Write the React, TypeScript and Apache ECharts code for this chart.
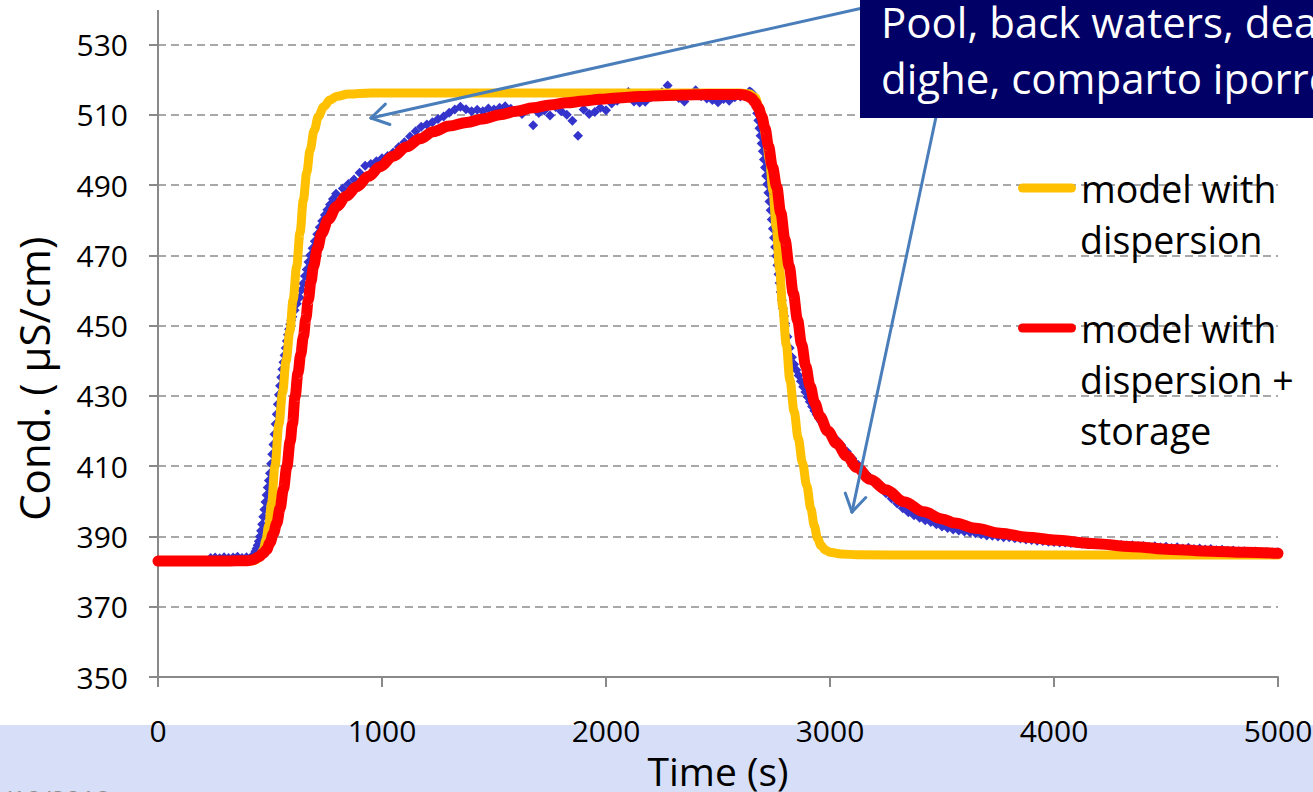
import React, { useEffect, useRef } from "react";
import * as echarts from "echarts";

// ---------- axes ----------
const X_MIN = 0;
const X_MAX = 5000;
const X_STEP = 1000;
const Y_MIN = 350;
const Y_MAX = 530;
const Y_STEP = 20;
const X_TITLE = "Time (s)";
const Y_TITLE = "Cond. ( µS/cm)";

// ---------- series names / texts ----------
const NAME_OBS = "observed";
const NAME_DISP = "model with dispersion";
const NAME_STOR = "model with dispersion + storage";
const legendDispLines = ["model with", "dispersion"];
const legendStorLines = ["model with", "dispersion +", "storage"];
const calloutLines = ["Pool, back waters, dead zones,", "dighe, comparto iporreico"];
const dateText = "/10/2018";

// ---------- observed conductivity (time s, µS/cm) ----------
const observedStart: [number, number][] = [[0, 383.0]];
const observedBaseline: [number, number][] = [
  [235, 383.9], [255, 384.0], [275, 383.8], [295, 384.1], [315, 383.9], [335, 384.0],
  [355, 384.2], [375, 383.9], [395, 384.1], [415, 384.0],
];
const observedRise: [number, number][] = [
  [425, 384.5], [430, 385.0], [435, 385.8], [440, 386.6], [445, 387.5], [450, 388.6],
  [455, 390.0], [460, 391.6], [465, 393.5], [470, 395.6], [475, 397.7], [480, 399.8],
  [485, 401.8], [490, 403.9], [495, 405.9], [500, 408.0], [505, 410.7], [510, 413.4],
  [515, 416.2], [520, 419.1], [525, 422.0], [530, 424.8], [535, 427.6], [540, 430.3],
  [545, 432.9], [550, 435.3], [555, 437.6], [560, 439.6], [565, 441.6], [570, 443.6],
  [575, 445.6], [580, 447.4], [585, 449.0], [590, 450.4], [595, 451.5], [600, 452.5],
  [610, 454.4], [620, 456.2], [632, 458.0], [640, 460.1], [648, 462.0], [656, 464.1],
  [664, 466.0], [672, 468.1], [680, 470.0], [690, 472.0], [700, 474.0], [711, 476.0],
  [722, 478.0], [733, 479.8], [745, 481.5], [756, 483.0], [768, 484.5], [781, 486.0],
  [795, 487.5],
];
const observedPlateau: [number, number][] = [
  [825, 489.0], [850, 490.3], [875, 491.6], [900, 493.5], [925, 495.5], [950, 496.0],
  [975, 496.8], [1000, 497.6], [1025, 498.3], [1050, 499.3], [1075, 500.8], [1100, 502.2],
  [1125, 503.8], [1150, 505.3], [1175, 506.6], [1200, 507.2], [1225, 507.9], [1250, 508.8],
  [1275, 509.5], [1300, 510.6], [1325, 511.5], [1350, 512.3], [1375, 511.6], [1400, 511.0],
  [1425, 511.4], [1450, 511.0], [1475, 511.8], [1500, 511.5], [1525, 512.0], [1550, 512.4],
  [1575, 511.7], [1600, 511.0], [1625, 510.2], [1650, 511.5], [1675, 507.0], [1700, 510.5],
  [1725, 511.2], [1750, 509.8], [1775, 512.2], [1800, 511.0], [1825, 510.0], [1850, 508.3],
  [1875, 504.0], [1900, 511.5], [1925, 510.2], [1950, 510.8], [1975, 512.0], [2000, 511.3],
  [2025, 513.2], [2050, 514.0], [2075, 515.2], [2100, 516.5], [2125, 513.8], [2150, 513.5],
  [2175, 513.7], [2200, 515.0], [2225, 515.6], [2250, 516.4], [2275, 518.3], [2300, 515.5],
  [2325, 514.8], [2350, 513.8], [2375, 515.6], [2400, 517.0], [2425, 515.3], [2450, 514.6],
  [2475, 514.2], [2500, 513.6], [2525, 514.5], [2550, 514.0], [2575, 515.0], [2600, 515.2],
  [2625, 515.6], [2640, 516.6],
];
const observedFall: [number, number][] = [
  [2645, 516.5], [2650, 516.3], [2655, 515.8], [2660, 515.0], [2665, 513.8], [2670, 512.2],
  [2675, 510.4], [2680, 508.4], [2685, 506.2], [2690, 504.0], [2695, 501.8], [2700, 499.6],
  [2705, 497.3], [2710, 495.0], [2715, 492.6], [2720, 490.2], [2725, 487.8], [2730, 485.3],
  [2735, 482.8], [2740, 480.2], [2745, 477.6], [2750, 475.0], [2755, 472.4], [2760, 469.8],
  [2765, 467.2], [2770, 464.6], [2775, 462.1], [2780, 459.6], [2785, 457.2], [2790, 454.9],
  [2795, 452.7], [2800, 450.6], [2810, 446.8], [2820, 443.6], [2830, 441.0], [2840, 439.0],
  [2850, 437.4], [2860, 435.8], [2870, 434.2], [2880, 432.6], [2890, 431.1], [2900, 429.7],
  [2910, 428.3], [2920, 427.0], [2930, 425.8], [2940, 424.7], [2950, 423.7], [2960, 422.7],
  [2970, 421.8], [2980, 420.9], [2990, 420.1], [3000, 419.3],
];
const observedTail: [number, number][] = [
  [3025, 417.8], [3050, 416.0], [3075, 414.2], [3100, 412.2], [3125, 410.4], [3150, 408.6],
  [3175, 407.0], [3200, 405.2], [3225, 403.7], [3250, 402.3], [3275, 400.8], [3300, 399.4],
  [3325, 398.0], [3350, 396.9], [3375, 396.0], [3400, 395.3], [3425, 394.6], [3450, 394.1],
  [3475, 393.5], [3500, 392.8], [3525, 392.4], [3550, 392.0], [3575, 391.7], [3600, 391.4],
  [3625, 391.2], [3650, 390.9], [3675, 390.6], [3700, 390.3], [3725, 390.2], [3750, 390.0],
  [3775, 389.8], [3800, 389.8], [3825, 389.5], [3850, 389.4], [3875, 389.1], [3900, 389.0],
  [3925, 388.8], [3950, 388.7], [3975, 388.5], [4000, 388.4], [4025, 388.3], [4050, 388.3],
  [4075, 388.1], [4100, 388.1], [4125, 387.9], [4150, 387.9], [4175, 387.8], [4200, 387.9],
  [4225, 387.7], [4250, 387.8], [4275, 387.5], [4300, 387.6], [4325, 387.4], [4350, 387.5],
  [4375, 387.2], [4400, 387.3], [4425, 387.0], [4450, 387.2], [4475, 386.9], [4500, 387.1],
  [4525, 386.7], [4550, 386.9], [4575, 386.6], [4600, 386.8], [4625, 386.4], [4650, 386.6],
  [4675, 386.3], [4700, 386.4], [4725, 386.1], [4750, 386.2], [4775, 385.9], [4800, 386.0],
  [4825, 385.8], [4850, 385.8], [4875, 385.6], [4900, 385.7], [4925, 385.5], [4950, 385.6],
  [4975, 385.4], [5000, 385.5],
];

// ---------- model with dispersion ----------
const dispersionModel: [number, number][] = [
  [0, 383.0], [420, 383.0], [440, 383.4], [455, 384.3], [470, 386.2], [482, 389.0],
  [494, 393.0], [507, 399.4], [522, 410.0], [540, 422.0], [556, 431.0], [572, 440.0],
  [589, 448.5], [603, 457.3], [619, 466.8], [634, 476.5], [649, 485.8], [664, 493.5],
  [679, 500.0], [697, 505.5], [716, 509.5], [740, 512.3], [768, 514.2], [800, 515.3],
  [850, 515.9], [950, 516.2], [2600, 516.2], [2640, 516.0], [2665, 515.0], [2685, 512.0],
  [2700, 508.5], [2715, 503.5], [2730, 497.0], [2745, 488.5], [2760, 478.0], [2775, 466.0],
  [2788, 455.5], [2805, 444.5], [2821, 434.5], [2840, 425.5], [2858, 418.0], [2877, 411.0],
  [2896, 404.5], [2915, 397.8], [2930, 393.0], [2944, 389.5], [2960, 387.4], [2980, 386.1],
  [3000, 385.5], [3050, 385.0], [3120, 384.8], [3400, 384.7], [5000, 384.7],
];

// ---------- model with dispersion + storage ----------
const storageModel: [number, number][] = [
  [0, 383.0], [300, 383.0], [400, 383.1], [425, 383.4], [450, 384.2], [470, 385.2],
  [485, 386.3], [500, 388.2], [515, 390.8], [530, 393.7], [545, 398.0], [560, 403.5],
  [575, 409.8], [590, 417.0], [600, 422.0], [612, 429.8], [625, 436.5], [637, 441.8],
  [649, 446.8], [660, 452.0], [671, 457.3], [683, 462.5], [694, 466.8], [712, 472.0],
  [731, 476.3], [760, 480.2], [798, 483.9], [840, 486.8], [887, 489.5], [940, 492.5],
  [991, 495.2], [1050, 498.2], [1110, 500.9], [1170, 503.2], [1229, 505.2], [1300, 506.8],
  [1378, 507.8], [1450, 508.8], [1527, 510.0], [1600, 511.0], [1675, 512.0], [1750, 512.8],
  [1825, 513.4], [1900, 513.9], [1973, 514.4], [2050, 514.8], [2150, 515.2], [2271, 515.5],
  [2400, 515.7], [2500, 515.8], [2580, 515.8], [2610, 515.7], [2630, 515.4], [2650, 514.7],
  [2665, 513.6], [2680, 512.0], [2695, 509.6], [2710, 506.2], [2725, 501.2], [2743, 495.2],
  [2762, 489.5], [2780, 482.2], [2799, 474.4], [2818, 466.8], [2836, 459.2], [2855, 451.6],
  [2873, 444.8], [2892, 438.4], [2911, 432.8], [2932, 428.0], [2955, 424.1], [2990, 420.0],
  [3030, 416.5], [3075, 412.9], [3120, 409.6], [3180, 406.2], [3250, 403.3], [3330, 399.9],
  [3420, 397.0], [3500, 395.0], [3558, 393.8], [3650, 392.3], [3760, 390.9], [3880, 389.8],
  [4000, 389.0], [4170, 388.0], [4350, 387.1], [4521, 386.3], [4700, 385.8], [4850, 385.5],
  [5000, 385.2],
];

// ---------- style ----------
const FONT = "'Open Sans', 'Noto Sans', sans-serif";
const AXIS_GRAY = "#898989";
const BLUE = "#3434CC";
const ORANGE = "#FFC000";
const RED = "#FF0000";
const ARROW = "#4A7EBB";
const NAVY = "#000066";

function arrow(x1: number, y1: number, x2: number, y2: number): any[] {
  const ang = Math.atan2(y1 - y2, x1 - x2);
  const L = 20;
  const spread = 0.55;
  const style = { stroke: ARROW, lineWidth: 3, lineCap: "round" };
  return [
    { type: "line", z: 10, silent: true, shape: { x1, y1, x2, y2 }, style },
    {
      type: "line", z: 10, silent: true,
      shape: { x1: x2, y1: y2, x2: x2 + L * Math.cos(ang + spread), y2: y2 + L * Math.sin(ang + spread) },
      style,
    },
    {
      type: "line", z: 10, silent: true,
      shape: { x1: x2, y1: y2, x2: x2 + L * Math.cos(ang - spread), y2: y2 + L * Math.sin(ang - spread) },
      style,
    },
  ];
}

const LEGEND_ICON = "path://M4.5,0L53.5,0A4.5,4.5,0,0,1,53.5,9L4.5,9A4.5,4.5,0,0,1,4.5,0Z";
const LEG_LEFT = 1013;
const LEG_C1 = 188;
const LEG_C2 = 328;
const LEG_LH = 51;
const LEG_FS = 37.5;

function legendCfg(name: string, firstLine: string, center: number) {
  return {
    data: [name],
    left: LEG_LEFT,
    top: center - LEG_LH / 2 - 5,
    orient: "vertical",
    itemWidth: 58,
    itemHeight: 9,
    icon: LEGEND_ICON,
    selectedMode: false,
    formatter: () => firstLine,
    textStyle: { fontSize: LEG_FS, lineHeight: LEG_LH, fontFamily: FONT, color: "#000" },
  };
}

function legendExtra(lines: string[], center: number): any[] {
  return lines.slice(1).map((t, i) => ({
    type: "text",
    z: 5,
    silent: true,
    x: LEG_LEFT + 5 + 58 + 4,
    y: center + LEG_LH * (i + 1),
    style: { text: t, fontSize: LEG_FS, fontFamily: FONT, fill: "#000", verticalAlign: "middle", align: "left" },
  }));
}

export default function App() {
  const ref = useRef<HTMLDivElement>(null);

  useEffect(() => {
    if (!ref.current) return;
    const chart = echarts.init(ref.current, null, { renderer: "svg" });

    const observed = [
      ...observedStart,
      ...observedBaseline,
      ...observedRise,
      ...observedPlateau,
      ...observedFall,
      ...observedTail,
    ];

    const option: any = {
      animation: false,
      backgroundColor: "#ffffff",
      textStyle: { fontFamily: FONT },
      grid: {
        left: 158,
        right: 35,
        top: 44.5,
        bottom: 115,
        containLabel: false,
        outerBoundsMode: "none",
      },
      xAxis: {
        type: "value",
        min: X_MIN,
        max: X_MAX,
        interval: X_STEP,
        name: X_TITLE,
        nameLocation: "middle",
        nameGap: 58,
        nameTextStyle: { fontSize: 39, lineHeight: 42, fontFamily: FONT, color: "#000" },
        axisLine: { show: true, lineStyle: { color: AXIS_GRAY, width: 2 } },
        axisTick: { show: true, length: 10, lineStyle: { color: AXIS_GRAY, width: 2 } },
        axisLabel: {
          margin: 38,
          fontSize: 30,
          fontFamily: FONT,
          color: "#000",
          formatter: (v: number) => String(v),
        },
        splitLine: { show: false },
      },
      yAxis: {
        type: "value",
        min: Y_MIN,
        max: Y_MAX,
        interval: Y_STEP,
        name: Y_TITLE,
        nameLocation: "middle",
        nameGap: 104,
        nameTextStyle: { fontSize: 42, fontFamily: FONT, color: "#000", padding: [0, 36, 0, 0] },
        axisLine: { show: true, lineStyle: { color: AXIS_GRAY, width: 2 } },
        axisTick: { show: true, length: 9, lineStyle: { color: AXIS_GRAY, width: 2 } },
        axisLabel: { margin: 30, fontSize: 30, fontFamily: FONT, color: "#000" },
        splitLine: {
          show: true,
          showMinLine: false,
          lineStyle: { color: "#8C8C8C", width: 1.6, type: [8, 5] },
        },
      },
      legend: [
        legendCfg(NAME_DISP, legendDispLines[0], LEG_C1),
        legendCfg(NAME_STOR, legendStorLines[0], LEG_C2),
      ],
      series: [
        {
          name: NAME_OBS,
          type: "scatter",
          data: observed,
          symbol: "diamond",
          symbolSize: 10,
          itemStyle: { color: BLUE, opacity: 1 },
          z: 2,
        },
        {
          name: NAME_DISP,
          type: "line",
          data: dispersionModel,
          showSymbol: false,
          symbol: "none",
          smooth: 0.35,
          smoothMonotone: "x",
          itemStyle: { color: ORANGE },
          lineStyle: { color: ORANGE, width: 9, cap: "round", join: "round" },
          z: 3,
        },
        {
          name: NAME_STOR,
          type: "line",
          data: storageModel,
          showSymbol: false,
          symbol: "none",
          smooth: 0.35,
          smoothMonotone: "x",
          itemStyle: { color: RED },
          lineStyle: { color: RED, width: 11, cap: "round", join: "round" },
          z: 4,
        },
      ],
      graphic: [
        {
          type: "rect", z: -1, silent: true,
          shape: { x: 0, y: 725, width: 1313, height: 67 },
          style: { fill: "#D6DFF7" },
        },
        {
          type: "line", z: 1, silent: true,
          shape: { x1: 158, y1: 10, x2: 158, y2: 45 },
          style: { stroke: AXIS_GRAY, lineWidth: 2 },
        },
        {
          type: "text", z: 1, silent: true, x: 2, y: 786,
          style: { text: dateText, fontSize: 26, fontFamily: FONT, fill: "#8E8E8E", verticalAlign: "top" },
        },
        ...legendExtra(legendDispLines, LEG_C1),
        ...legendExtra(legendStorLines, LEG_C2),
        ...arrow(885, 3, 371, 118),
        ...arrow(946, 70, 852, 512),
        {
          type: "rect", z: 11, silent: true,
          shape: { x: 860, y: -20, width: 520, height: 138 },
          style: { fill: NAVY },
        },
        ...calloutLines.map((t, i) => ({
          type: "text", z: 12, silent: true, x: 881, y: 21 + 56 * i,
          style: { text: t, fontSize: 42, fontFamily: FONT, fill: "#FFFFFF", verticalAlign: "middle" },
        })),
      ],
    };

    chart.setOption(option);
    return () => chart.dispose();
  }, []);

  return (
    <div
      ref={ref}
      style={{ position: "fixed", left: 0, top: 0, width: 1313, height: 792, background: "#fff" }}
    />
  );
}
